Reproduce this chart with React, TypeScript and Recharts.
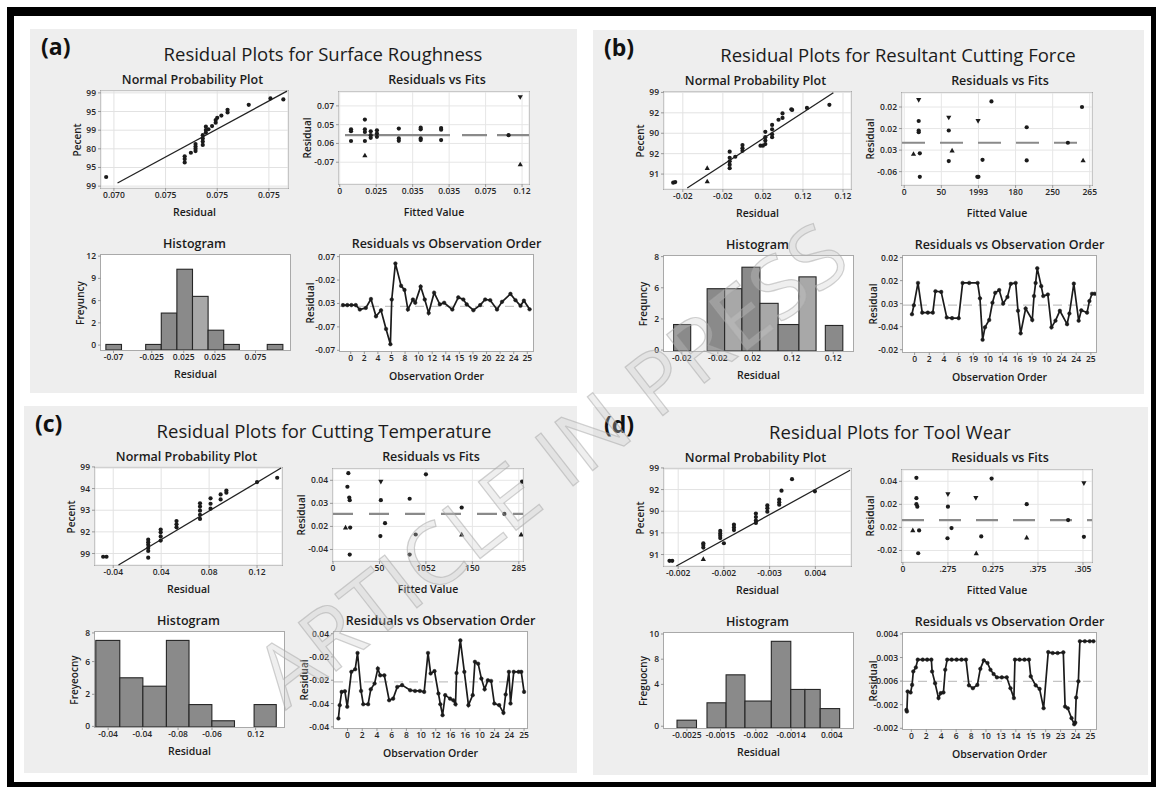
import React from "react";
import {
  ScatterChart,
  Scatter,
  BarChart,
  Bar,
  LineChart,
  Line,
  XAxis,
  YAxis,
  CartesianGrid,
  ReferenceLine,
} from "recharts";

type Pt = [number, number];
type Bin = [number, number, number]; // lower edge, upper edge, height
type Ax = { domain: [number, number]; ticks: number[]; labels: string[] };

const ax = (domain: [number, number], ticks: number[], labels: string[]): Ax => ({ domain, ticks, labels });

// ---------- (a) Surface Roughness ----------
const aNppX = ["0.070", "0.075", "0.075", "0.075"];
const aNppY = ["99", "95", "80", "99", "95", "99"];
const aNppPts: Pt[] = [
  [-0.15, 0.49], [1.37, 1.6], [1.37, 1.45], [1.37, 1.27], [1.49, 1.79],
  [1.58, 2.26], [1.58, 2.12], [1.58, 2.0], [1.58, 1.88],
  [1.72, 2.73], [1.72, 2.56], [1.72, 2.39], [1.72, 2.21],
  [1.78, 3.19], [1.78, 3.01], [1.78, 2.87], [1.83, 3.05], [1.9, 3.22],
  [1.97, 3.4], [1.97, 3.54], [2.0, 3.66], [2.08, 3.78], [2.2, 4.09], [2.2, 3.95],
  [2.61, 4.36], [3.03, 4.7], [3.28, 4.65],
];
const aNppFit: Pt[] = [[0.07, 0.17], [3.35, 5.09]];

const aFitX = ["0", "0.025", "0.035", "0.035", "0.075", "0.12"];
const aFitY = ["-0.07", "0.06", "0.05", "0.07"];
const aFitPts: Pt[] = [
  [0.31, 1.75], [0.31, 1.65], [0.31, 1.13],
  [0.69, 2.27], [0.69, 1.75], [0.69, 1.61], [0.69, 1.13],
  [0.85, 1.65], [0.85, 1.44], [0.85, 1.3],
  [1.02, 1.7], [1.02, 1.53], [1.02, 1.35],
  [1.62, 1.79], [1.62, 1.27], [1.62, 1.14],
  [2.22, 1.84], [2.22, 1.75], [2.22, 1.27], [2.22, 1.18],
  [2.78, 1.82], [2.78, 1.73], [2.78, 1.18], [4.63, 1.44],
];
const aFitTri: Pt[] = [[0.69, 0.36], [4.95, -0.12]];
const aFitInv: Pt[] = [[4.95, 3.47]];

const aHistX = ["-0.07", "-0.025", "0.025", "0.025", "0.075"];
const aHistY = ["0", "2", "6", "9", "12"];
const aHistBins: Bin[] = [
  [-0.5, 0.5, 0.25], [2.05, 3.05, 0.25], [3.05, 4.05, 1.66], [4.05, 5.05, 3.63],
  [5.05, 6.05, 2.41], [6.05, 7.05, 0.89], [7.05, 8.05, 0.25], [9.84, 10.84, 0.25],
];

const aOrdX = ["0", "2", "4", "5", "8", "10", "12", "14", "15", "19", "20", "22", "24", "25"];
const aOrdY = ["-0.07", "-0.07", "0.03", "-0.02", "0.07"];
const aOrdPts: Pt[] = [
  [-0.57, 1.93], [-0.25, 1.93], [0.05, 1.93], [0.37, 1.93], [0.67, 1.74], [1.11, 1.81],
  [1.49, 2.19], [1.86, 1.45], [2.23, 1.71], [2.6, 0.91], [2.92, 0.26], [3.02, 2.17],
  [3.29, 3.71], [3.71, 2.75], [3.96, 2.58], [4.21, 1.74], [4.58, 2.17], [4.75, 2.03],
  [5.15, 2.72], [5.45, 2.17], [5.74, 1.59], [6.14, 2.46], [6.56, 1.96], [6.88, 2.03],
  [7.48, 1.74], [7.92, 2.26], [8.29, 2.17], [8.54, 1.96], [9.03, 1.71], [9.53, 1.93],
  [9.9, 2.17], [10.27, 2.14], [10.77, 1.74], [11.14, 2.07], [11.76, 2.41], [12.13, 2.14],
  [12.5, 1.9], [12.75, 2.12], [13.17, 1.75],
];

// ---------- (b) Resultant Cutting Force ----------
const bNppX = ["-0.02", "-0.02", "0.02", "0.12", "0.12"];
const bNppY = ["91", "92", "90", "92", "99"];
const bNppPts: Pt[] = [
  [-0.24, -0.42], [-0.19, -0.39],
  [1.17, 1.1], [1.17, 0.8], [1.17, 0.63], [1.17, 0.46], [1.17, 0.29], [1.31, 0.85],
  [1.49, 1.42], [1.49, 1.27], [1.49, 1.14], [1.94, 1.39], [2.0, 1.39],
  [2.06, 2.07], [2.06, 1.81], [2.06, 1.64], [2.06, 1.47],
  [2.23, 2.41], [2.23, 2.19], [2.23, 1.95], [2.23, 1.81],
  [2.39, 2.66], [2.49, 2.75], [2.49, 2.97], [2.71, 3.17], [2.73, 3.14], [3.1, 3.24], [3.66, 3.39],
];
const bNppTri: Pt[] = [[0.61, 0.29], [0.61, -0.36]];
const bNppFit: Pt[] = [[0.11, -0.68], [3.76, 3.98]];

const bFitX = ["0", "50", "1993", "180", "250", "265"];
const bFitY = ["-0.06", "0.03", "0.02", "0.02"];
const bFitPts: Pt[] = [
  [0.39, 2.35], [0.39, 1.91], [0.39, 1.83], [0.42, 0.85], [0.42, -0.24], [1.2, 1.91],
  [1.2, 0.49], [1.97, -0.24], [2.0, -0.24], [2.11, 0.55], [2.35, 3.26], [3.3, 2.06],
  [3.3, 0.52], [4.41, 1.34], [4.79, 3.0],
];
const bFitTri: Pt[] = [[0.25, 0.82], [1.29, 0.98], [4.82, 0.52]];
const bFitInv: Pt[] = [[0.39, 3.33], [1.2, 2.51], [1.99, 2.35]];

const bHistX = ["-0.02", "-0.02", "0.02", "0.12", "0.12"];
const bHistY = ["0", "2", "6", "8"];
const bHistBins: Bin[] = [
  [-0.49, 0.49, 0.85], [1.43, 2.43, 2.0], [2.43, 3.42, 2.0], [3.42, 4.45, 2.69],
  [4.45, 5.49, 1.53], [5.49, 6.68, 0.85], [6.68, 7.66, 2.38], [8.19, 9.19, 0.82],
];

const bOrdX = ["0", "2", "4", "6", "19", "10", "14", "16", "19", "10", "24", "24", "25"];
const bOrdY = ["-0.02", "-0.04", "0.03", "0.02", "0.02"];
const bOrdPts: Pt[] = [
  [-0.18, 1.54], [-0.05, 1.93], [0.23, 2.9], [0.52, 1.61], [0.9, 1.61], [1.24, 1.61],
  [1.42, 2.54], [1.81, 2.51], [2.19, 1.4], [2.55, 1.37], [3.0, 1.37], [3.27, 2.9],
  [3.72, 2.9], [4.29, 2.9], [4.45, 2.23], [4.63, 0.43], [4.79, 0.97], [5.08, 1.29],
  [5.3, 2.04], [5.49, 2.47], [5.76, 2.59], [6.03, 2.0], [6.32, 2.29], [6.55, 2.86],
  [6.88, 2.9], [7.04, 1.69], [7.22, 0.71], [7.56, 1.79], [8.01, 1.29], [8.13, 2.33],
  [8.24, 2.9], [8.35, 3.54], [8.62, 2.76], [8.76, 2.33], [9.07, 2.4], [9.32, 0.97],
  [9.59, 1.26], [9.89, 1.69], [10.38, 1.11], [10.54, 1.57], [10.84, 2.87], [11.17, 1.26],
  [11.35, 1.71], [11.74, 1.61], [11.9, 2.11], [12.08, 2.43], [12.26, 2.43],
];

// ---------- (c) Cutting Temperature ----------
const cNppX = ["-0.04", "0.04", "0.08", "0.12"];
const cNppY = ["99", "92", "93", "94", "99"];
const cNppPts: Pt[] = [
  [-0.21, -0.15], [-0.14, -0.15], [0.73, -0.19], [0.73, 0.12], [0.73, 0.26], [0.73, 0.4],
  [0.73, 0.52], [0.73, 0.64], [0.99, 0.6], [0.99, 0.79], [0.99, 0.98], [0.99, 1.11],
  [1.32, 1.21], [1.32, 1.35], [1.32, 1.5], [1.81, 1.6], [1.81, 1.79], [1.81, 1.98],
  [1.81, 2.17], [1.81, 2.32], [2.03, 2.07], [2.03, 2.3], [2.03, 2.55], [2.24, 2.5],
  [2.24, 2.73], [2.36, 2.81], [2.36, 2.91], [3.0, 3.3], [3.42, 3.5],
];
const cNppFit: Pt[] = [[0.11, -0.53], [3.5, 3.95]];

const cFitX = ["0", "50", "1052", "150", "285"];
const cFitY = ["-0.04", "0.02", "0.03", "0.04"];
const cFitPts: Pt[] = [
  [0.33, 3.31], [0.31, 2.72], [0.35, 2.25], [0.36, 2.14], [0.37, 0.95], [0.36, -0.22],
  [1.03, 2.14], [1.12, 1.14], [1.02, 0.58], [1.65, 2.2], [1.78, 0.65], [1.65, -0.22],
  [2.0, 3.26], [2.77, 1.82], [3.69, 1.54], [4.07, 2.94],
];
const cFitTri: Pt[] = [[0.27, 0.95], [2.77, 0.65], [4.05, 0.65]];
const cFitInv: Pt[] = [[1.03, 2.94]];

const cHistX = ["-0.04", "-0.04", "-0.08", "-0.06", "0.12"];
const cHistY = ["0", "2", "6", "8"];
const cHistBins: Bin[] = [
  [-0.52, 0.52, 2.78], [0.52, 1.52, 1.58], [1.52, 2.54, 1.31], [2.54, 3.52, 2.78],
  [3.52, 4.51, 0.72], [4.51, 5.49, 0.2], [6.34, 7.3, 0.72],
];

const cOrdX = ["0", "2", "4", "6", "8", "10", "12", "16", "16", "10", "24", "24", "25"];
const cOrdY = ["-0.04", "-0.04", "-0.02", "-0.02", "0.04"];
const cOrdPts: Pt[] = [
  [-0.62, 0.36], [-0.53, 0.93], [-0.4, 1.5], [-0.18, 1.53], [-0.02, 0.86], [0.26, 2.36],
  [0.52, 2.47], [0.68, 3.17], [0.92, 1.54], [1.07, 0.97], [1.4, 0.97], [1.58, 1.61],
  [1.84, 1.86], [2.06, 2.5], [2.22, 2.21], [2.5, 2.21], [2.83, 1.14], [3.1, 1.21],
  [3.38, 1.71], [3.71, 1.79], [4.26, 1.57], [4.59, 1.54], [4.92, 1.54], [5.21, 1.5],
  [5.47, 3.17], [5.65, 2.29], [5.91, 2.39], [6.18, 1.43], [6.31, 0.97], [6.46, 0.5],
  [6.64, 1.36], [6.97, 1.21], [7.19, 1.14], [7.34, 0.97], [7.41, 2.31], [7.67, 3.71],
  [7.94, 2.36], [8.22, 0.93], [8.51, 1.36], [8.66, 2.79], [8.88, 2.71], [9.1, 2.07],
  [9.32, 1.61], [9.54, 2.0], [9.76, 1.97], [9.98, 1.0], [10.31, 0.93], [10.6, 0.6],
  [10.75, 1.39], [10.97, 2.36], [11.08, 1.0], [11.3, 2.36], [11.63, 2.36], [11.81, 2.36],
  [12.0, 1.5],
];

// ---------- (d) Tool Wear ----------
const dNppX = ["-0.002", "-0.002", "-0.003", "0.004"];
const dNppY = ["91", "91", "90", "92", "99"];
const dNppPts: Pt[] = [
  [-0.19, -0.29], [-0.13, -0.29], [0.55, 0.32], [0.55, 0.44], [0.55, 0.52],
  [0.92, 1.09], [0.92, 0.97], [0.92, 0.87], [0.92, 0.76], [1.0, 0.52],
  [1.22, 1.38], [1.22, 1.25], [1.22, 1.13], [1.7, 1.89], [1.7, 1.73], [1.7, 1.57], [1.7, 1.46],
  [1.95, 2.27], [1.95, 2.14], [1.95, 1.98], [2.21, 2.54], [2.21, 2.41], [2.21, 2.3],
  [2.26, 2.95], [2.49, 3.48], [2.99, 2.92],
];
const dNppTri: Pt[] = [[0.55, -0.21]];
const dNppFit: Pt[] = [[-0.04, -0.53], [3.76, 3.89]];

const dFitX = ["0", ".275", "0.275", ".375", ".305"];
const dFitY = ["-0.02", "0.02", "0.02", "0.04"];
const dFitPts: Pt[] = [
  [0.3, 3.15], [0.3, 2.27], [0.3, 2.01], [0.32, 1.9], [0.36, 0.87], [0.34, -0.12],
  [1.0, 1.9], [1.08, 0.97], [0.99, 0.53], [1.74, 0.61], [1.97, 3.12], [2.75, 2.01],
  [3.67, 1.32], [4.02, 0.59],
];
const dFitTri: Pt[] = [[0.22, 0.87], [1.63, -0.12], [2.75, 0.56]];
const dFitInv: Pt[] = [[1.0, 2.44], [1.62, 2.28], [4.02, 2.92]];

const dHistX = ["-0.0025", "-0.0015", "-0.002", "-0.0014", "0.004"];
const dHistY = ["0", "4", "8", "10"];
const dHistBins: Bin[] = [
  [0, 1.02, 0.31], [1.57, 2.57, 1.0], [2.57, 3.56, 2.11], [3.56, 4.94, 1.07],
  [4.94, 5.96, 3.44], [5.96, 6.7, 1.53], [6.7, 7.5, 1.53], [7.5, 8.52, 0.77],
];

const dOrdX = ["0", "2", "4", "6", "8", "10", "13", "14", "15", "19", "23", "24", "25"];
const dOrdY = ["-0.002", "-0.002", "0.006", "0.003", "0.004"];
const dOrdPts: Pt[] = [
  [-0.33, 0.78], [-0.3, 0.71], [-0.25, 1.56], [-0.05, 1.52], [0.05, 1.84], [0.13, 2.41],
  [0.3, 2.58], [0.43, 2.91], [0.76, 2.91], [1.06, 2.91], [1.34, 2.91], [1.39, 2.41],
  [1.59, 1.91], [1.82, 1.28], [1.97, 1.49], [2.15, 1.52], [2.27, 2.48], [2.4, 2.91],
  [2.7, 2.91], [3.03, 2.91], [3.36, 2.91], [3.66, 2.91], [3.86, 1.82], [4.12, 1.7],
  [4.42, 1.84], [4.62, 2.52], [4.85, 2.88], [5.1, 2.77], [5.3, 2.48], [5.51, 2.3],
  [5.73, 2.16], [6.06, 2.16], [6.39, 2.16], [6.64, 1.7], [6.87, 1.28], [6.94, 2.91],
  [7.25, 2.91], [7.58, 2.91], [7.88, 2.91], [8.0, 2.2], [8.33, 1.82], [8.59, 1.67],
  [8.86, 0.85], [9.17, 3.23], [9.47, 3.19], [9.8, 3.19], [10.18, 3.22], [10.3, 0.92],
  [10.48, 0.85], [10.73, 0.43], [10.91, 0.17], [10.98, 0.24], [11.04, 1.3], [11.19, 1.99],
  [11.29, 3.69], [11.62, 3.69], [11.95, 3.69], [12.2, 3.69],
];

// ---------- drawing ----------
const FONT = "'Open Sans', 'Noto Sans', sans-serif";
const INK = "#1b1b1b";
const PANEL_BG = "#eeeeee";
const YW = 40;
const XH = 22;
const PT = 9;
const PR = 12;

const seq = (n: number) => Array.from({ length: n }, (_, i) => i);

type Box = { x: number; y: number; w: number; h: number };
const LAYOUT: Record<string, Box> = {
  npp: { x: 71, y: 62, w: 187, h: 97 },
  fits: { x: 309, y: 63, w: 190, h: 92 },
  hist: { x: 71, y: 226, w: 189, h: 95 },
  ord: { x: 310, y: 226, w: 193, h: 96 },
};

const fmt = (a: Ax) => (v: number) => {
  const i = a.ticks.findIndex((t) => Math.abs(t - v) < 1e-9);
  return i >= 0 ? a.labels[i] : "";
};
const tickStyle = { fontSize: 8.5, fontWeight: 600, fill: "#262626", fontFamily: FONT };

function xAxis(a: Ax) {
  return (
    <XAxis type="number" dataKey="x" domain={a.domain} ticks={a.ticks} interval={0} allowDataOverflow
      tickFormatter={fmt(a)} tick={tickStyle} tickSize={3} tickMargin={1} axisLine={false}
      tickLine={{ stroke: "#999" }} height={XH} />
  );
}
function yAxis(a: Ax) {
  return (
    <YAxis type="number" dataKey="y" domain={a.domain} ticks={a.ticks} interval={0} allowDataOverflow
      tickFormatter={fmt(a)} tick={tickStyle} tickSize={3} tickMargin={2} axisLine={false}
      tickLine={{ stroke: "#999" }} width={YW} />
  );
}

const toXY = (pts: Pt[]) => pts.map(([x, y]) => ({ x, y }));
const dot = (p: any) => <circle cx={p.cx} cy={p.cy} r={2.1} fill={INK} />;
const tri = (p: any) => (
  <path d={`M${p.cx},${p.cy - 2.8}L${p.cx + 2.6},${p.cy + 1.9}L${p.cx - 2.6},${p.cy + 1.9}Z`} fill={INK} />
);
const inv = (p: any) => (
  <path d={`M${p.cx},${p.cy + 2.8}L${p.cx + 2.6},${p.cy - 1.9}L${p.cx - 2.6},${p.cy - 1.9}Z`} fill={INK} />
);

const chartSize = (b: Box) => ({
  width: b.w + YW + PR,
  height: b.h + PT + XH,
  margin: { top: PT, right: PR, bottom: 0, left: 0 },
});

function Frame({ b, children }: { b: Box; children: React.ReactNode }) {
  return (
    <>
      <div style={{ position: "absolute", left: b.x - 1, top: b.y - 1, width: b.w, height: b.h, background: "#fff", border: "1px solid #a9a9a9" }} />
      <div style={{ position: "absolute", left: b.x - YW, top: b.y - PT }}>{children}</div>
    </>
  );
}

function Txt({ x, y, size, weight = 600, rot = false, children }: { x: number; y: number; size: number; weight?: number; rot?: boolean; children: React.ReactNode }) {
  return (
    <div style={{ position: "absolute", left: x, top: y, transform: `translate(-50%, -50%)${rot ? " rotate(-90deg)" : ""}`, fontSize: size, fontWeight: weight, color: INK, whiteSpace: "nowrap", lineHeight: 1, fontFamily: FONT }}>
      {children}
    </div>
  );
}

type PanelSpec = {
  tag: string; title: string; titleX: number; x: number; y: number; w: number; h: number;
  npp: { xa: Ax; ya: Ax; pts: Pt[]; tri: Pt[]; fit: Pt[] };
  fits: { xa: Ax; ya: Ax; pts: Pt[]; tri: Pt[]; inv: Pt[]; zero: number; dash: string };
  hist: { xa: Ax; ya: Ax; bins: Bin[]; light: number[]; ylabel: string };
  ord: { xa: Ax; ya: Ax; pts: Pt[]; zero: number };
};

function histShape(k: number) {
  return (p: any) => {
    const d = p.payload;
    const cx = p.x + p.width / 2;
    const left = cx + (d.lo - d.x) * k;
    return (
      <rect x={left} y={p.y} width={(d.hi - d.lo) * k} height={Math.max(p.height, 0)}
        fill={d.light ? "#a8a8a8" : "#8a8a8a"} stroke="#262626" strokeWidth={1.1} />
    );
  };
}

function Panel({ p }: { p: PanelSpec }) {
  const { npp, fits, hist, ord } = LAYOUT;
  const cxOf = (b: Box) => b.x + b.w / 2;
  const cyOf = (b: Box) => b.y + b.h / 2;
  const histData = p.hist.bins.map(([lo, hi, c], i) => ({ x: (lo + hi) / 2, y: c, lo, hi, light: p.hist.light.includes(i) }));
  const k = hist.w / (p.hist.xa.domain[1] - p.hist.xa.domain[0]);
  return (
    <div style={{ position: "absolute", left: p.x, top: p.y, width: p.w, height: p.h, background: PANEL_BG }}>
      <div style={{ position: "absolute", left: 11, top: 6, fontSize: 23, fontWeight: 700, color: "#111", lineHeight: 1, fontFamily: FONT }}>{p.tag}</div>
      <Txt x={p.titleX} y={25} size={18.5} weight={500}>{p.title}</Txt>

      {/* Normal probability plot */}
      <Txt x={cxOf(npp) - 2} y={51} size={12.5}>Normal Probability Plot</Txt>
      <Frame b={npp}>
        <ScatterChart {...chartSize(npp)}>
          <CartesianGrid stroke="#e2e2e2" />
          {xAxis(p.npp.xa)}
          {yAxis(p.npp.ya)}
          <ReferenceLine segment={[{ x: p.npp.fit[0][0], y: p.npp.fit[0][1] }, { x: p.npp.fit[1][0], y: p.npp.fit[1][1] }]} stroke="#222" strokeWidth={1.3} />
          <Scatter data={toXY(p.npp.pts)} shape={dot} isAnimationActive={false} />
          <Scatter data={toXY(p.npp.tri)} shape={tri} isAnimationActive={false} />
        </ScatterChart>
      </Frame>
      <Txt x={npp.x - 24} y={cyOf(npp)} size={10} rot>Pecent</Txt>
      <Txt x={cxOf(npp)} y={183} size={10.5}>Residual</Txt>

      {/* Residuals vs fits */}
      <Txt x={cxOf(fits) + 3} y={51} size={12.5}>Residuals vs Fits</Txt>
      <Frame b={fits}>
        <ScatterChart {...chartSize(fits)}>
          <CartesianGrid stroke="#e6e6e6" />
          {xAxis(p.fits.xa)}
          {yAxis(p.fits.ya)}
          <ReferenceLine y={p.fits.zero} stroke="#8a8a8a" strokeWidth={2.2} strokeDasharray={p.fits.dash} />
          <Scatter data={toXY(p.fits.pts)} shape={dot} isAnimationActive={false} />
          <Scatter data={toXY(p.fits.tri)} shape={tri} isAnimationActive={false} />
          <Scatter data={toXY(p.fits.inv)} shape={inv} isAnimationActive={false} />
        </ScatterChart>
      </Frame>
      <Txt x={fits.x - 32} y={cyOf(fits)} size={10} rot>Residual</Txt>
      <Txt x={cxOf(fits)} y={183} size={10.5}>Fitted Value</Txt>

      {/* Histogram */}
      <Txt x={cxOf(hist) - 1} y={215} size={12.5}>Histogram</Txt>
      <Frame b={hist}>
        <BarChart {...chartSize(hist)} data={histData}>
          {xAxis(p.hist.xa)}
          {yAxis(p.hist.ya)}
          <Bar dataKey="y" barSize={4} shape={histShape(k)} isAnimationActive={false} />
        </BarChart>
      </Frame>
      <Txt x={hist.x - 21} y={cyOf(hist)} size={10} rot>{p.hist.ylabel}</Txt>
      <Txt x={cxOf(hist)} y={345} size={10.5}>Residual</Txt>

      {/* Residuals vs order */}
      <Txt x={cxOf(ord) + 10} y={215} size={12.5}>Residuals vs Observation Order</Txt>
      <Frame b={ord}>
        <LineChart {...chartSize(ord)} data={toXY(p.ord.pts)}>
          {xAxis(p.ord.xa)}
          {yAxis(p.ord.ya)}
          <ReferenceLine y={p.ord.zero} stroke="#c4c4c4" strokeWidth={1.3} strokeDasharray="9 6" />
          <Line dataKey="y" stroke={INK} strokeWidth={1.7} dot={{ r: 1.8, fill: INK, stroke: INK, strokeWidth: 0.5 }} isAnimationActive={false} />
        </LineChart>
      </Frame>
      <Txt x={ord.x - 30} y={cyOf(ord)} size={10} rot>Residual</Txt>
      <Txt x={cxOf(ord)} y={347} size={10.5}>Observation Order</Txt>
    </div>
  );
}

const panels: PanelSpec[] = [
  {
    tag: "(a)", title: "Residual Plots for Surface Roughness", titleX: 293, x: 30, y: 29, w: 547, h: 364,
    npp: { xa: ax([-0.25, 3.37], seq(4), aNppX), ya: ax([-0.1, 5.1], seq(6), aNppY), pts: aNppPts, tri: [], fit: aNppFit },
    fits: { xa: ax([-0.02, 5.19], seq(6), aFitX), ya: ax([-1.16, 3.74], seq(4), aFitY), pts: aFitPts, tri: aFitTri, inv: aFitInv, zero: 1.44, dash: "0 6 105 12 25 10 40" },
    hist: { xa: ax([-0.8, 11.31], [0, 2.45, 4.5, 6.5, 9.1], aHistX), ya: ax([0, 4.27], [0.22, 1.22, 2.22, 3.22, 4.22], aHistY), bins: aHistBins, light: [4], ylabel: "Freyuncy" },
    ord: { xa: ax([-0.79, 13.42], seq(14), aOrdX), ya: ax([-0.03, 4.07], seq(5), aOrdY), pts: aOrdPts, zero: 1.88 },
  },
  {
    tag: "(b)", title: "Residual Plots for Resultant Cutting Force", titleX: 305, x: 593, y: 30, w: 551, h: 364,
    npp: { xa: ax([-0.47, 4.2], seq(5), bNppX), ya: ax([-0.73, 4.02], seq(5), bNppY), pts: bNppPts, tri: bNppTri, fit: bNppFit },
    fits: { xa: ax([-0.06, 5.06], seq(6), bFitX), ya: ax([-0.62, 3.65], seq(4), bFitY), pts: bFitPts, tri: bFitTri, inv: bFitInv, zero: 1.34, dash: "23 15" },
    hist: { xa: ax([-1.02, 9.79], [0, 2.06, 4.04, 6.3, 8.66], bHistX), ya: ax([0, 3.05], [0.03, 1.03, 2.03, 3.03], bHistY), bins: bHistBins, light: [2, 4, 6], ylabel: "Frequncy" },
    ord: { xa: ax([-0.79, 12.35], seq(13), bOrdX), ya: ax([-0.1, 4.07], seq(5), bOrdY), pts: bOrdPts, zero: 1.94 },
  },
  {
    tag: "(c)", title: "Residual Plots for Cutting Temperature", titleX: 300, x: 24, y: 406, w: 553, h: 367,
    npp: { xa: ax([-0.38, 3.52], seq(4), cNppX), ya: ax([-0.53, 3.95], seq(5), cNppY), pts: cNppPts, tri: [], fit: cNppFit },
    fits: { xa: ax([0, 4.09], seq(5), cFitX), ya: ax([-0.5, 3.49], seq(4), cFitY), pts: cFitPts, tri: cFitTri, inv: cFitInv, zero: 1.54, dash: "20 16" },
    hist: { xa: ax([-0.57, 7.62], [0, 1.48, 3.03, 4.5, 6.39], cHistX), ya: ax([0, 3.05], [0.02, 1.05, 2.1, 3.02], cHistY), bins: cHistBins, light: [], ylabel: "Freyeocny" },
    ord: { xa: ax([-0.92, 12.2], seq(13), cOrdX), ya: ax([-0.05, 4.07], seq(5), cOrdY), pts: cOrdPts, zero: 1.93 },
  },
  {
    tag: "(d)", title: "Residual Plots for Tool Wear", titleX: 297, x: 593, y: 407, w: 555, h: 368,
    npp: { xa: ax([-0.31, 3.78], seq(4), dNppX), ya: ax([-0.53, 3.95], seq(5), dNppY), pts: dNppPts, tri: dNppTri, fit: dNppFit },
    fits: { xa: ax([-0.02, 4.2], seq(5), dFitX), ya: ax([-0.5, 3.49], seq(4), dFitY), pts: dFitPts, tri: dFitTri, inv: dFitInv, zero: 1.32, dash: "22 15" },
    hist: { xa: ax([-0.7, 9.2], [0.5, 2.26, 4.11, 5.96, 8.09], dHistX), ya: ax([0, 3.77], [0.07, 1.73, 2.73, 3.73], dHistY), bins: dHistBins, light: [], ylabel: "Freguocny" },
    ord: { xa: ax([-0.56, 12.37], seq(13), dOrdX), ya: ax([-0.03, 4.04], seq(5), dOrdY), pts: dOrdPts, zero: 1.99 },
  },
];

export default function App() {
  return (
    <div style={{ position: "absolute", left: 0, top: 0, width: 1158, height: 789, background: "#fff", overflow: "hidden", fontFamily: FONT }}>
      <div style={{ position: "absolute", left: 7, top: 7, width: 1149, height: 780, boxSizing: "border-box", border: "solid #000", borderWidth: "9px 5px 5px 7px" }} />
      {panels.map((p) => (
        <Panel key={p.tag} p={p} />
      ))}
      <div style={{ position: "absolute", left: 550, top: 462, transform: "translate(-50%, -50%) rotate(-38deg)", fontSize: 86, fontFamily: FONT, color: "rgba(205,205,205,0.32)", WebkitTextStroke: "1.2px rgba(165,165,165,0.5)", letterSpacing: 1, whiteSpace: "nowrap", pointerEvents: "none", lineHeight: 1 }}>
        ARTICLE IN PRESS
      </div>
    </div>
  );
}
